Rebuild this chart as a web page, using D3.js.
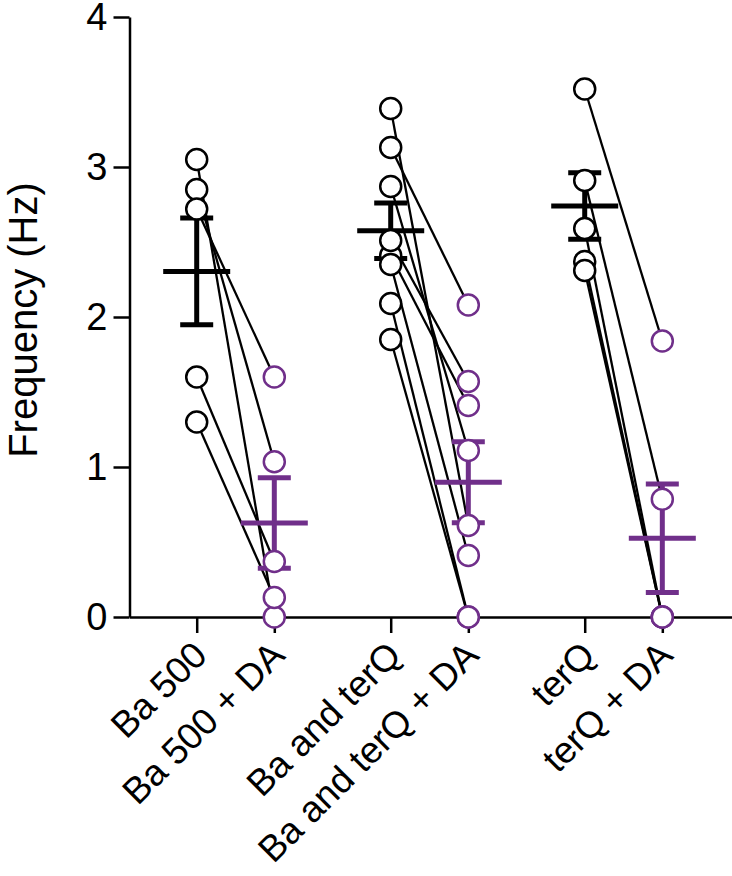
<!DOCTYPE html>
<html>
<head>
<meta charset="utf-8">
<script src="https://cdn.jsdelivr.net/npm/d3@7"></script>
<style>
  html, body { margin: 0; padding: 0; background: #fff; }
  svg { display: block; font-family: "Liberation Sans", Arial, Helvetica, sans-serif; }
</style>
</head>
<body>
<svg id="chart" width="732" height="876"></svg>
<script>
// ---- data ----
const categories = ["Ba 500", "Ba 500 + DA", "Ba and terQ", "Ba and terQ + DA", "terQ", "terQ + DA"];
const positions = [0, 1, 2.5, 3.5, 5, 6];
const yTicks = [0, 1, 2, 3, 4];
const yLabel = "Frequency (Hz)";

// paired values (index i of "before" is paired with index i of "after")
const ba500     = [3.05, 2.85, 2.72, 1.60, 1.30];
const ba500DA   = [0.00, 1.035, 1.60, 0.37, 0.13];
const baTerQ    = [2.41, 3.39, 3.13, 2.87, 2.51, 2.35, 2.09, 1.85];
const baTerQDA  = [1.41, 0.61, 2.08, 1.11, 1.57, 0.41, 0.00, 0.00];
const terQ      = [3.52, 2.91, 2.59, 2.37, 2.31];
const terQDA    = [1.84, 0.785, 0.00, 0.00, 0.00];

const groups = [
  { before: ba500, after: ba500DA, pb: positions[0], pa: positions[1] },
  { before: baTerQ, after: baTerQDA, pb: positions[2], pa: positions[3] },
  { before: terQ, after: terQDA, pb: positions[4], pa: positions[5] }
];
const columns = [
  { vals: ba500, p: positions[0], color: "#000000" },
  { vals: ba500DA, p: positions[1], color: "#702F8A" },
  { vals: baTerQ, p: positions[2], color: "#000000" },
  { vals: baTerQDA, p: positions[3], color: "#702F8A" },
  { vals: terQ, p: positions[4], color: "#000000" },
  { vals: terQDA, p: positions[5], color: "#702F8A" }
];

// ---- scales ----
const svg = d3.select("#chart");
const x = d3.scaleLinear().domain([-0.866, 6.898]).range([129.5, 732]);
const y = d3.scaleLinear().domain([0, 4]).range([617, 17]);

// ---- axes ----
const yAxis = svg.append("g")
  .attr("transform", "translate(129.5,0)")
  .call(d3.axisLeft(y).tickValues(yTicks).tickFormat(d3.format("d"))
        .tickSize(16).tickSizeOuter(0).tickPadding(6));
yAxis.selectAll("path, line").attr("stroke", "#000").attr("stroke-width", 2.5);
yAxis.selectAll("text").attr("font-size", 38).attr("fill", "#000")
  .attr("font-family", "Liberation Sans, Arial, sans-serif");

const xAxis = svg.append("g")
  .attr("transform", "translate(0,617)")
  .call(d3.axisBottom(x).tickValues(positions).tickFormat((d, i) => categories[i])
        .tickSize(16).tickSizeOuter(0));
xAxis.selectAll("path, line").attr("stroke", "#000").attr("stroke-width", 2.5);
xAxis.selectAll("text")
  .attr("font-size", 37).attr("fill", "#000")
  .attr("font-family", "Liberation Sans, Arial, sans-serif")
  .attr("text-anchor", "end")
  .attr("x", 4).attr("y", 34).attr("dy", "0.35em")
  .attr("transform", "rotate(-45,0,34)");

svg.append("text")
  .attr("transform", "translate(37,320) rotate(-90)")
  .attr("text-anchor", "middle")
  .attr("font-size", 40)
  .attr("fill", "#000")
  .text(yLabel);

// ---- pair lines ----
const lineG = svg.append("g");
groups.forEach(g => {
  g.before.forEach((v, i) => {
    lineG.append("line")
      .attr("x1", x(g.pb)).attr("y1", y(v))
      .attr("x2", x(g.pa)).attr("y2", y(g.after[i]))
      .attr("stroke", "#000").attr("stroke-width", 2.3);
  });
});

// ---- mean ± SEM ----
const barG = svg.append("g");
columns.forEach(c => {
  const m = d3.mean(c.vals);
  const sem = d3.deviation(c.vals) / Math.sqrt(c.vals.length);
  const cx = x(c.p);
  barG.append("line").attr("x1", cx).attr("x2", cx)
    .attr("y1", y(m + sem)).attr("y2", y(m - sem))
    .attr("stroke", c.color).attr("stroke-width", 5);
  [m + sem, m - sem].forEach(v => {
    barG.append("line").attr("x1", cx - 16.5).attr("x2", cx + 16.5)
      .attr("y1", y(v)).attr("y2", y(v))
      .attr("stroke", c.color).attr("stroke-width", 5);
  });
  barG.append("line").attr("x1", cx - 33.5).attr("x2", cx + 33.5)
    .attr("y1", y(m)).attr("y2", y(m))
    .attr("stroke", c.color).attr("stroke-width", 5);
});

// ---- points ----
const ptG = svg.append("g");
columns.forEach(c => {
  ptG.selectAll(null).data(c.vals).enter().append("circle")
    .attr("cx", x(c.p)).attr("cy", d => y(d)).attr("r", 10.5)
    .attr("fill", "#fff").attr("stroke", c.color).attr("stroke-width", 2.5);
});
</script>
</body>
</html>
